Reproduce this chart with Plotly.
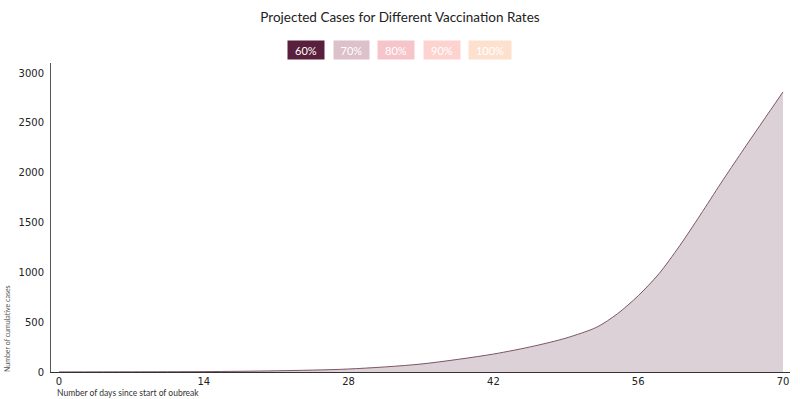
import plotly.graph_objects as go

# Data (60% vaccination rate scenario shown)
days = [0, 7, 14, 21, 28, 35, 42, 46, 49, 52, 54, 56, 58, 60, 62, 64, 66, 68, 70]
cases = [1, 2, 4, 12, 30, 80, 180, 262, 340, 450, 585, 765, 985, 1265, 1575, 1895, 2205, 2508, 2810]

x_ticks = [0, 14, 28, 42, 56, 70]
y_ticks = [0, 500, 1000, 1500, 2000, 2500, 3000]

legend_labels = ["60%", "70%", "80%", "90%", "100%"]
legend_colors = ["#5a1f3c", "#dcc0ca", "#f5c5ca", "#fdd3cf", "#fee0cf"]

W, H = 800, 399
ML, MR, MT, MB = 51, 10, 63, 27
PW = W - ML - MR
PH = H - MT - MB

def px_x(p):
    return (p - ML) / PW

def px_y(p):
    return (H - MB - p) / PH

fig = go.Figure()
fig.add_trace(go.Scatter(
    x=days, y=cases, mode="lines",
    line=dict(color="#7d5566", width=1, shape="spline", smoothing=0.8),
    fill="tozeroy", fillcolor="#dcd1d7",
    hoverinfo="x+y", showlegend=False,
))

annotations = []
centers = [306, 351, 396, 442, 490]
widths = [36, 35, 36, 36, 42]
for lab, col, cx, w in zip(legend_labels, legend_colors, centers, widths):
    annotations.append(dict(
        text=lab, xref="paper", yref="paper", x=px_x(cx), y=px_y(50),
        xanchor="center", yanchor="middle", showarrow=False,
        width=w, height=18, bgcolor=col, borderpad=0,
        font=dict(family="Lato", size=11, color="white"),
    ))

annotations.append(dict(
    text="Number of cumulative cases", xref="paper", yref="paper",
    x=px_x(7), y=px_y(329), xanchor="center", yanchor="middle",
    textangle=-90, showarrow=False,
    font=dict(family="Lato", size=7, color="#555"),
))
annotations.append(dict(
    text="Number of days since start of oubreak", xref="paper", yref="paper",
    x=px_x(55), y=px_y(393), xanchor="left", yanchor="middle",
    showarrow=False,
    font=dict(family="Lato", size=8.5, color="#333"),
))

x0 = -(59 - ML) / ((783 - 59) / 70)
x1 = x0 + PW / ((783 - 59) / 70)
y1 = 3000 * PH / (372 - 73)

fig.update_layout(
    width=W, height=H,
    margin=dict(l=ML, r=MR, t=MT, b=MB, autoexpand=False),
    paper_bgcolor="white", plot_bgcolor="white",
    title=dict(text="Projected Cases for Different Vaccination Rates",
               x=0.5, xanchor="center", y=1 - 17 / H, yanchor="middle",
               font=dict(family="Lato", size=13.5, color="#222")),
    xaxis=dict(range=[x0, x1], tickvals=x_ticks, showgrid=False, zeroline=False,
               automargin=False,
               showline=True, linecolor="#333", linewidth=1, ticks="",
               tickfont=dict(family="DejaVu Sans", size=10, color="#222")),
    yaxis=dict(range=[0, y1], tickvals=y_ticks, showgrid=False, zeroline=False,
               automargin=False,
               showline=True, linecolor="#555", linewidth=1, ticks="",
               ticklabelstandoff=4,
               tickfont=dict(family="DejaVu Sans", size=10, color="#222")),
    annotations=annotations,
)

fig.write_html("out.html", config={"displayModeBar": False},
               post_script="document.body.style.margin='0';")
